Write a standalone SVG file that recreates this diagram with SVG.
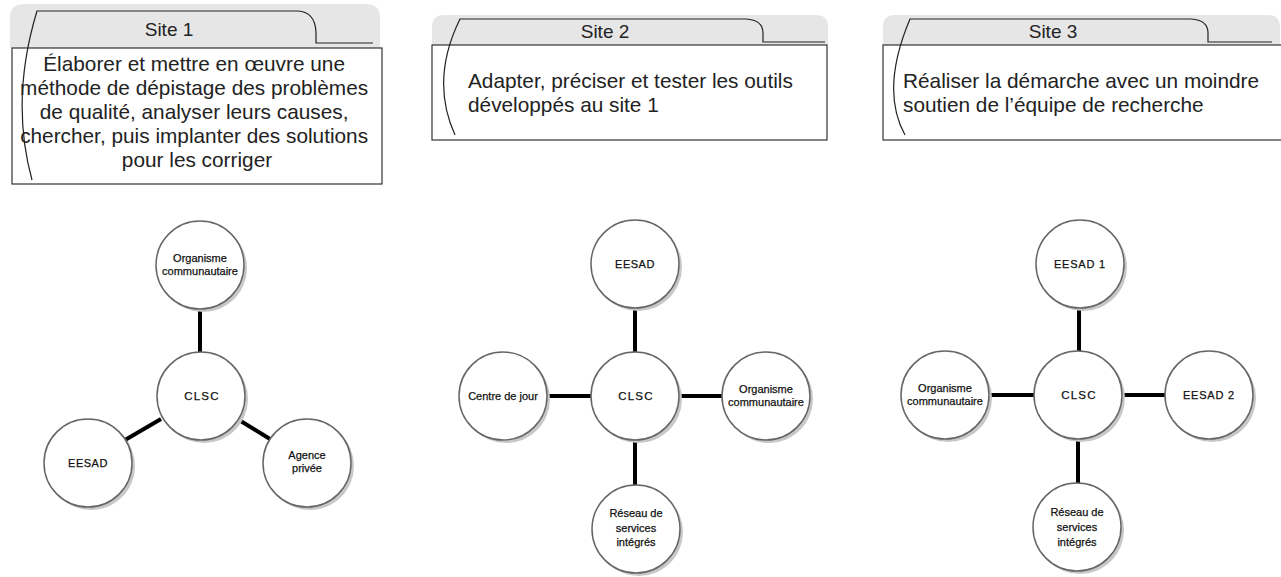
<svg xmlns="http://www.w3.org/2000/svg" width="1281" height="577" viewBox="0 0 1281 577">
<style>
.tab{fill:#e6e6e6;stroke:none}
.box{fill:#fff;stroke:#333;stroke-width:1.2}
.deco{fill:none;stroke:#222;stroke-width:1.2}
.title{font-family:"Liberation Sans",Arial,sans-serif;font-size:19px;fill:#222;text-anchor:middle}
.body{font-family:"Liberation Sans",Arial,sans-serif;font-size:20.8px;fill:#222}
.shadow{fill:#c8c8c8}
.circ{fill:#fff;stroke:#666;stroke-width:1.5}
.lbl{font-family:"Liberation Sans",Arial,sans-serif;font-size:11px;fill:#111;stroke:#111;stroke-width:0.25;text-anchor:middle}
.clsc{font-family:"Liberation Sans",Arial,sans-serif;font-size:11.5px;letter-spacing:1.2px;fill:#111;stroke:#111;stroke-width:0.25;text-anchor:middle}
.conn{stroke:#000;stroke-width:4;fill:none}
</style>
<rect width="1281" height="577" fill="#fff"/>

<g id="site1-header">
<path class="tab" d="M10,48 V18 Q10,4 24,4 H366 Q380,4 380,18 V48 Z"/>
<rect class="box" x="12" y="48" width="370" height="136"/>
<path class="deco" d="M32,180 Q10,100 37,11 H298 Q315,12 316,32 V43 H373"/>
<text class="title" x="169" y="36">Site 1</text>
<text class="body" text-anchor="middle">
<tspan x="197" y="71">Élaborer et mettre en œuvre une</tspan>
<tspan x="197" y="95">méthode de dépistage des problèmes</tspan>
<tspan x="197" y="119">de qualité, analyser leurs causes,</tspan>
<tspan x="197" y="143">chercher, puis implanter des solutions</tspan>
<tspan x="197" y="167">pour les corriger</tspan>
</text>
</g>

<g id="site2-header">
<path class="tab" d="M432,45 V27 Q432,15 444,15 H816 Q828,15 828,27 V45 Z"/>
<rect class="box" x="432" y="45" width="395" height="95"/>
<path class="deco" d="M455,135 Q430,80 460,19 H746 Q763,20 763,33 V42 H825"/>
<text class="title" x="605" y="38">Site 2</text>
<text class="body"><tspan x="468" y="88">Adapter, préciser et tester les outils</tspan><tspan x="468" y="112">développés au site 1</tspan></text>
</g>

<g id="site3-header">
<path class="tab" d="M883,45 V27 Q883,15 895,15 H1268 Q1280,15 1280,27 V45 Z"/>
<rect class="box" x="883" y="45" width="400" height="95"/>
<path class="deco" d="M905,135 Q880,90 910,19 H1191 Q1208,20 1208,33 V42 H1272"/>
<text class="title" x="1053" y="38">Site 3</text>
<text class="body"><tspan x="903" y="88">Réaliser la démarche avec un moindre</tspan><tspan x="903" y="112">soutien de l’équipe de recherche</tspan></text>
</g>

<g id="connectors">
<line class="conn" x1="200" y1="309" x2="200" y2="352"/>
<line class="conn" x1="161" y1="419" x2="125" y2="440"/>
<line class="conn" x1="239" y1="420" x2="270" y2="439"/>
<line class="conn" x1="635" y1="308" x2="635" y2="352"/>
<line class="conn" x1="547" y1="396" x2="591" y2="396"/>
<line class="conn" x1="679" y1="396" x2="722" y2="396"/>
<line class="conn" x1="635" y1="440" x2="635" y2="485"/>
<line class="conn" x1="1079" y1="308" x2="1079" y2="351"/>
<line class="conn" x1="989" y1="395" x2="1034" y2="395"/>
<line class="conn" x1="1122" y1="395" x2="1165" y2="395"/>
<line class="conn" x1="1078" y1="439" x2="1078" y2="483"/>
</g>

<g id="s1-organisme"><circle class="shadow" cx="203" cy="268" r="44"/><circle class="circ" cx="200" cy="265" r="44"/><text class="lbl" x="200" y="262">Organisme</text><text class="lbl" x="200" y="275">communautaire</text></g>
<g id="s1-clsc"><circle class="shadow" cx="204" cy="399" r="44"/><circle class="circ" cx="201" cy="396" r="44"/><text class="clsc" x="202" y="400">CLSC</text></g>
<g id="s1-eesad"><circle class="shadow" cx="91" cy="466" r="44"/><circle class="circ" cx="88" cy="463" r="44"/><text class="lbl" x="88" y="467" letter-spacing="0.5">EESAD</text></g>
<g id="s1-agence"><circle class="shadow" cx="310" cy="466" r="44"/><circle class="circ" cx="307" cy="463" r="44"/><text class="lbl" x="307" y="459">Agence</text><text class="lbl" x="307" y="472">privée</text></g>

<g id="s2-eesad"><circle class="shadow" cx="638" cy="267" r="44"/><circle class="circ" cx="635" cy="264" r="44"/><text class="lbl" x="635" y="268" letter-spacing="0.5">EESAD</text></g>
<g id="s2-clsc"><circle class="shadow" cx="638" cy="399" r="44"/><circle class="circ" cx="635" cy="396" r="44"/><text class="clsc" x="636" y="400">CLSC</text></g>
<g id="s2-centre"><circle class="shadow" cx="506" cy="399" r="44"/><circle class="circ" cx="503" cy="396" r="44"/><text class="lbl" x="503" y="400">Centre de jour</text></g>
<g id="s2-organisme"><circle class="shadow" cx="769" cy="399" r="44"/><circle class="circ" cx="766" cy="396" r="44"/><text class="lbl" x="766" y="393">Organisme</text><text class="lbl" x="766" y="406">communautaire</text></g>
<g id="s2-reseau"><circle class="shadow" cx="639" cy="532" r="44"/><circle class="circ" cx="636" cy="529" r="44"/><text class="lbl" x="636" y="517">Réseau de</text><text class="lbl" x="636" y="532">services</text><text class="lbl" x="636" y="546">intégrés</text></g>

<g id="s3-eesad1"><circle class="shadow" cx="1083" cy="267" r="44"/><circle class="circ" cx="1080" cy="264" r="44"/><text class="lbl" x="1080" y="268" letter-spacing="0.8">EESAD 1</text></g>
<g id="s3-clsc"><circle class="shadow" cx="1081" cy="398" r="44"/><circle class="circ" cx="1078" cy="395" r="44"/><text class="clsc" x="1079" y="399">CLSC</text></g>
<g id="s3-organisme"><circle class="shadow" cx="948" cy="398" r="44"/><circle class="circ" cx="945" cy="395" r="44"/><text class="lbl" x="945" y="392">Organisme</text><text class="lbl" x="945" y="405">communautaire</text></g>
<g id="s3-eesad2"><circle class="shadow" cx="1212" cy="398" r="44"/><circle class="circ" cx="1209" cy="395" r="44"/><text class="lbl" x="1209" y="399" letter-spacing="0.8">EESAD 2</text></g>
<g id="s3-reseau"><circle class="shadow" cx="1080" cy="530" r="44"/><circle class="circ" cx="1077" cy="527" r="44"/><text class="lbl" x="1077" y="516" font-size="12">Réseau de</text><text class="lbl" x="1077" y="531" font-size="12">services</text><text class="lbl" x="1077" y="546" font-size="12">intégrés</text></g>
</svg>
